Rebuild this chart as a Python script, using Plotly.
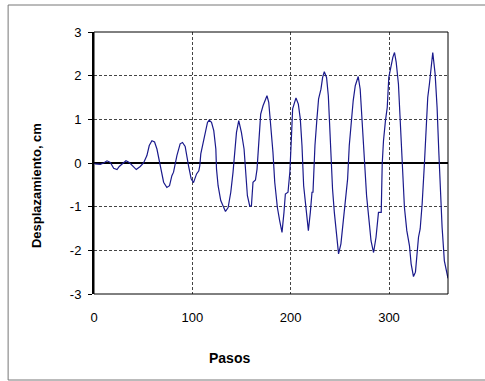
import plotly.graph_objects as go

pasos = [0, 1.3, 6.4, 9.8, 13.2, 16.6, 20, 23.4, 25.7, 28.4, 32.5, 35.9, 39.3, 43, 47, 50.4,
         53.8, 56.2, 58.9, 61.6, 64, 67.3, 70.8, 74.1, 76.8, 79.2, 80.9, 84.3, 87.6, 90, 92.7,
         96.1, 98.8, 101.2, 104.3, 106.6, 107.6, 108.6, 111, 113.4, 115.4, 117.1, 119.5, 121.8,
         123.9, 124.6, 126.2, 128.9, 131.3, 133.7, 136.4, 139.1, 141.4, 143.1, 144.9, 147.2,
         149.9, 152.6, 154, 156, 158.4, 160.1, 161.7, 164.2, 165.8, 167.8, 169.5, 171.9, 174.3,
         175.9, 177.7, 179.7, 182, 183.8, 186.5, 188.8, 191.2, 193.2, 194.6, 197.3, 199.2, 200.8,
         202, 205.4, 207.8, 209.8, 211.5, 213.2, 215.6, 218, 220, 221.7, 222.7, 224.7, 226.7,
         228.4, 230.8, 232.5, 234.2, 236.5, 238.3, 240.3, 242.6, 244.4, 246.7, 248.7, 251.1,
         252.8, 254.5, 256.2, 257.9, 259.6, 261.2, 263.6, 265.7, 268.7, 270.7, 273.1, 275.4,
         277.2, 279.9, 281.7, 284.3, 286.8, 289.3, 292.1, 293.1, 294.4, 296.4, 298.2, 299.8,
         301.5, 303.9, 305.6, 307.3, 309.6, 311.7, 313.4, 315.7, 318.1, 320.8, 322.5, 324.9,
         326.9, 328.6, 330, 331.7, 333.7, 336, 337.8, 339.4, 341.1, 342.8, 344.5, 346.9, 348.9,
         350.6, 352, 354, 356.3, 358.7, 360]

desplazamiento = [0.0, -0.02, -0.03, 0.0, 0.05, 0.01, -0.12, -0.15, -0.08, -0.02, 0.05, 0.01,
                  -0.06, -0.15, -0.08, 0.0, 0.17, 0.40, 0.51, 0.48, 0.32, -0.06, -0.44, -0.56,
                  -0.52, -0.29, -0.21, 0.17, 0.44, 0.47, 0.38, -0.06, -0.36, -0.45, -0.25, -0.18,
                  -0.06, 0.21, 0.44, 0.70, 0.93, 0.98, 0.93, 0.74, 0.32, -0.14, -0.52, -0.86,
                  -0.98, -1.11, -1.02, -0.67, -0.21, 0.24, 0.70, 0.97, 0.70, 0.32, -0.21, -0.75,
                  -0.99, -0.98, -0.44, -0.39, -0.14, 0.70, 1.12, 1.31, 1.47, 1.54, 1.39, 0.93,
                  0.24, -0.44, -1.02, -1.32, -1.59, -1.13, -0.71, -0.67, -0.2, 0.6,
                  1.24, 1.49, 1.35, 1.01, 0.40, -0.52, -1.13, -1.55, -1.13, -0.67, -0.67, 0.40,
                  1.01, 1.47, 1.69, 1.96, 2.09, 1.96, 1.54, 0.40, -0.60, -1.13, -1.74, -2.08,
                  -1.85, -1.44, -1.05, -0.71, -0.37, 0.40, 0.85, 1.43, 1.77, 1.98, 1.69, 0.78,
                  -0.02, -0.75, -1.36, -1.78, -2.05, -1.70, -1.13, -1.13, -0.02, 0.51, 0.97,
                  1.27, 1.96, 2.19, 2.42, 2.53, 2.31, 1.81, 0.89, -0.10, -1.02, -1.55, -1.89,
                  -2.31, -2.60, -2.50, -2.12, -1.70, -1.51, -0.94, -0.02, 0.82, 1.50, 1.81, 2.19,
                  2.53, 2.04, 1.27, 0.28, -0.63, -1.47, -2.24, -2.54, -2.64]

x_ticks = [0, 100, 200, 300]
y_ticks = [-3, -2, -1, 0, 1, 2, 3]
y_ticktext = ["-3", "-2", "-1", "0", "1", "2", "3"]

W, H = 485, 381
L, R, T, B = 94, 36.5, 32, 87
pw, ph = W - L - R, H - T - B

def px(xp):
    return (xp - L) / pw

def py(yp):
    return (H - B - yp) / ph

fig = go.Figure()
fig.add_trace(go.Scatter(x=pasos, y=desplazamiento, mode="lines",
                         line=dict(color="#1a1a8c", width=1.2), showlegend=False))

font = dict(family="Liberation Sans, Arial, sans-serif", color="black")

fig.update_layout(
    width=W, height=H,
    margin=dict(l=L, r=R, t=T, b=B),
    paper_bgcolor="white", plot_bgcolor="white",
    font=dict(**font, size=13),
    xaxis=dict(range=[0, 360], tickvals=x_ticks, ticks="", showline=False, zeroline=False,
               showgrid=True, gridcolor="#444444", griddash="3px,2px", gridwidth=1,
               ticklabelstandoff=14, tickfont=dict(size=13)),
    yaxis=dict(range=[-3, 3], tickvals=y_ticks, ticktext=y_ticktext, ticks="outside",
               ticklen=4, tickwidth=1,
               tickcolor="black", showline=True, linecolor="black", linewidth=2,
               zeroline=True, zerolinecolor="black", zerolinewidth=2,
               showgrid=True, gridcolor="#444444", griddash="3px,2px", gridwidth=1,
               ticklabelstandoff=4, tickfont=dict(size=13)),
    shapes=[
        dict(type="rect", xref="paper", yref="paper", x0=0, x1=1, y0=0, y1=1,
             line=dict(color="black", width=1), layer="above"),
        dict(type="rect", xref="paper", yref="paper", x0=px(8), x1=px(487), y0=py(5), y1=py(380),
             line=dict(color="#777777", width=1), layer="below"),
    ],
    annotations=[
        dict(text="<b>Desplazamiento, cm</b>", xref="paper", yref="paper",
             x=px(36), y=py(186), textangle=-90, showarrow=False,
             xanchor="center", yanchor="middle", font=dict(**font, size=13)),
        dict(text="<b>Pasos</b>", xref="paper", yref="paper",
             x=px(229.5), y=py(358), showarrow=False,
             xanchor="center", yanchor="middle", font=dict(**font, size=14)),
    ],
)

fig.write_html("out.html")
